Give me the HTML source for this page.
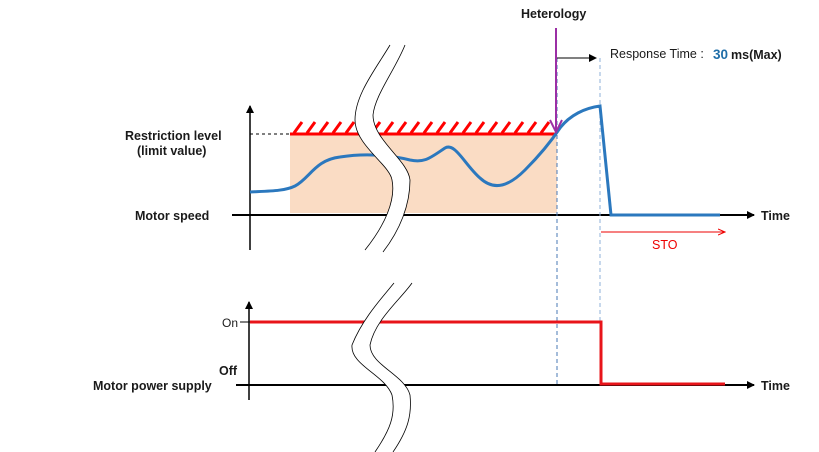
<!DOCTYPE html>
<html><head><style>
html,body{margin:0;padding:0;background:#fff;}
svg{display:block;}
text{font-family:"Liberation Sans",sans-serif;}
</style></head><body>
<svg width="819" height="452" viewBox="0 0 819 452" xmlns="http://www.w3.org/2000/svg">
<defs>
<marker id="ab" markerWidth="8" markerHeight="8" refX="7" refY="4" orient="auto" markerUnits="userSpaceOnUse"><path d="M0,0 L8,4 L0,8 z" fill="#000"/></marker>
<marker id="ar" markerWidth="8" markerHeight="8" refX="7" refY="4" orient="auto" markerUnits="userSpaceOnUse"><path d="M0,1 L7,4 L0,7" fill="none" stroke="#e00" stroke-width="1"/></marker>
</defs>
<rect x="290" y="135" width="267" height="78" fill="#fadcc4"/>
<line x1="290" y1="134" x2="557" y2="134" stroke="#f00" stroke-width="3"/>
<path d="M294,133 l8,-11 M307,133 l8,-11 M320,133 l8,-11 M333,133 l8,-11 M346,133 l8,-11 M359,133 l8,-11 M372,133 l8,-11 M385,133 l8,-11 M398,133 l8,-11 M411,133 l8,-11 M424,133 l8,-11 M437,133 l8,-11 M450,133 l8,-11 M463,133 l8,-11 M476,133 l8,-11 M489,133 l8,-11 M502,133 l8,-11 M515,133 l8,-11 M528,133 l8,-11 M541,133 l8,-11" stroke="#f00" stroke-width="3"/>
<line x1="250" y1="134" x2="290" y2="134" stroke="#000" stroke-dasharray="3,3"/>
<line x1="250" y1="250" x2="250" y2="106" stroke="#000" stroke-width="1.5" marker-end="url(#ab)"/>
<line x1="232" y1="215" x2="754" y2="215" stroke="#000" stroke-width="2" marker-end="url(#ab)"/>
<line x1="249" y1="400" x2="249" y2="302" stroke="#000" stroke-width="1.5" marker-end="url(#ab)"/>
<line x1="236" y1="385" x2="754" y2="385" stroke="#000" stroke-width="2" marker-end="url(#ab)"/>
<line x1="240" y1="322" x2="250" y2="322" stroke="#000"/>
<line x1="557" y1="58" x2="557" y2="385" stroke="#4a78b5" stroke-dasharray="4,3" stroke-width="1"/>
<line x1="600" y1="58" x2="600" y2="385" stroke="#8fb0d8" stroke-dasharray="4,3" stroke-width="1"/>
<path d="M250,192 C270,191 285,191 295,186 C310,178 315,160 340,157 C365,153 390,155 410,160 C425,163 430,158 445,148 C455,142 465,165 480,178 C495,192 510,185 525,170 C540,155 550,143 560,128 C570,115 585,108 600,106 L611,215 L720,215" fill="none" stroke="#2b78be" stroke-width="3"/>
<line x1="556" y1="28" x2="556" y2="131" stroke="#9b2fa5" stroke-width="2"/>
<path d="M550,120 L556,132 L562,120" fill="none" stroke="#9b2fa5" stroke-width="2"/>
<line x1="557" y1="58" x2="596" y2="58" stroke="#000" stroke-width="1" marker-end="url(#ab)"/>
<line x1="601" y1="232" x2="725" y2="232" stroke="#e00" stroke-width="1" marker-end="url(#ar)"/>
<path d="M250,322 L601,322 L601,384 L725,384" fill="none" stroke="#e8141a" stroke-width="3"/>
<path d="M390,45 C375,70 355,95 355,120 C355,145 390,165 392,180 C396,200 385,225 365,250 L383,252 C400,230 410,205 410,180 C408,160 373,140 373,115 C375,95 395,70 405,45 Z" fill="#fff"/>
<path d="M390,45 C375,70 355,95 355,120 C355,145 390,165 392,180 C396,200 385,225 365,250 M383,252 C400,230 410,205 410,180 C408,160 373,140 373,115 C375,95 395,70 405,45" fill="none" stroke="#000" stroke-width="0.8"/>
<path d="M394,283 C380,300 362,320 352,345 C350,365 385,375 392,395 C396,415 390,430 375,452 L393,452 C408,430 412,415 410,395 C405,375 370,365 370,345 C375,320 400,300 412,283 Z" fill="#fff"/>
<path d="M394,283 C380,300 362,320 352,345 C350,365 385,375 392,395 C396,415 390,430 375,452 M393,452 C408,430 412,415 410,395 C405,375 370,365 370,345 C375,320 400,300 412,283" fill="none" stroke="#000" stroke-width="0.8"/>
<g font-weight="bold" font-size="12.5" fill="#1a1a1a">
<text x="521" y="18">Heterology</text>
<text x="125" y="140">Restriction level</text>
<text x="137" y="155">(limit value)</text>
<text x="135" y="220">Motor speed</text>
<text x="93" y="390">Motor power supply</text>
<text x="761" y="220">Time</text>
<text x="761" y="390">Time</text>
</g>
<text x="610" y="58" font-size="12.5" fill="#1a1a1a">Response Time :</text>
<text x="713" y="59" font-size="13.5" font-weight="bold" fill="#1f6ea8">30</text>
<text x="731" y="59" font-size="12.5" font-weight="bold" fill="#1a1a1a">ms(Max)</text>
<text x="652" y="249" font-size="12.5" fill="#e00">STO</text>
<text x="222" y="327" font-size="12" fill="#1a1a1a">On</text>
<text x="219" y="375" font-size="12.5" font-weight="bold" fill="#1a1a1a">Off</text>
</svg>
</body></html>
